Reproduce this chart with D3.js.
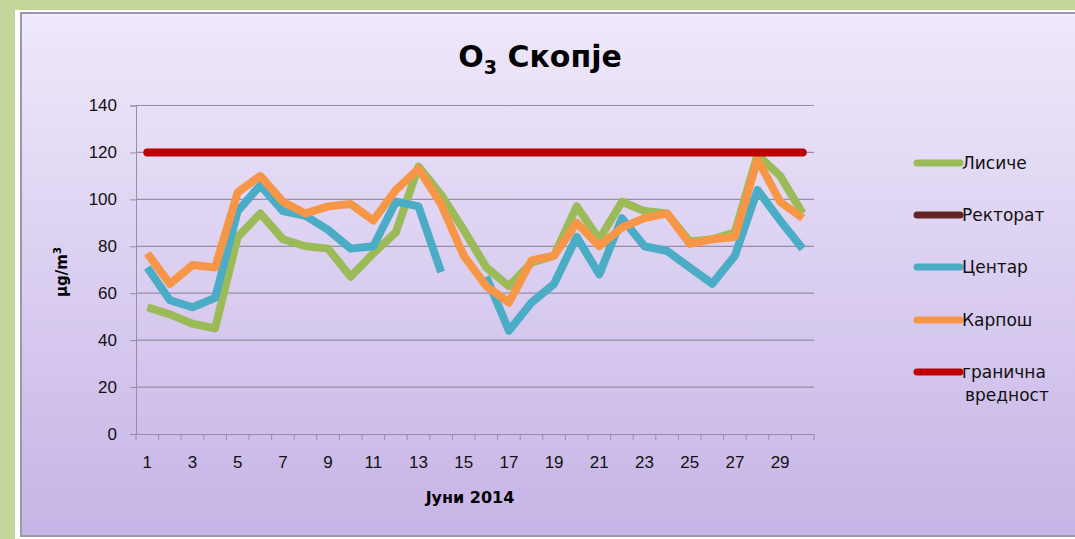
<!DOCTYPE html>
<html>
<head>
<meta charset="utf-8">
<script src="https://cdn.jsdelivr.net/npm/d3@7"></script>
<style>
  body { margin: 0; background: #c4d79b; }
  svg { display: block; font-family: "Comic Sans MS", "DejaVu Sans", sans-serif; }
</style>
</head>
<body>
<svg width="1075" height="539"></svg>
<script>
// денови во јуни
var days = d3.range(1, 31);

var lisice = [54, 51, 47, 45, 84, 94, 83, 80, 79, 67, 77, 86, 114, 102, 87, 71, 63, 73, 76, 97, 83, 99, 95, 94, 82, 83, 86, 119, 110, 94];
var rektorat = days.map(function() { return null; });
var centar = [71, 57, 54, 58, 95, 106, 95, 93, 87, 79, 80, 99, 97, 69, null, 67, 44, 56, 64, 84, 68, 92, 80, 78, 71, 64, 76, 104, 91, 79];
var karpos = [77, 64, 72, 71, 103, 110, 99, 94, 97, 98, 91, 104, 113, 98, 76, 63, 56, 74, 76, 90, 80, 88, 92, 94, 81, 83, 84, 117, 99, 92];
var granicna = days.map(function() { return 120; });

var seriesNames = ["Лисиче", "Ректорат", "Центар", "Карпош", "гранична вредност"];
var seriesColors = ["#9bbb59", "#632523", "#4bacc6", "#f79646", "#c00000"];
var yTicks = [0, 20, 40, 60, 80, 100, 120, 140];

var series = [lisice, rektorat, centar, karpos, granicna];

var svg = d3.select("svg");

// позадина
var defs = svg.append("defs");
var grad = defs.append("linearGradient").attr("id", "bg").attr("x1", 0).attr("y1", 0).attr("x2", 0).attr("y2", 1);
grad.append("stop").attr("offset", "0%").attr("stop-color", "#efe9fb");
grad.append("stop").attr("offset", "100%").attr("stop-color", "#c6b4e6");

svg.append("rect").attr("x", 15).attr("y", 10).attr("width", 1060).attr("height", 529).attr("fill", "#ffffff");
svg.append("rect").attr("x", 21).attr("y", 13).attr("width", 1060).attr("height", 523)
    .attr("fill", "url(#bg)").attr("stroke", "#9d98a8").attr("stroke-width", 2);

var margin = {left: 136, top: 105.5, right: 814, bottom: 434};

var x = d3.scaleBand().domain(days).range([margin.left, margin.right]);
var y = d3.scaleLinear().domain([0, 140]).range([margin.bottom, margin.top]);

// мрежа
svg.append("g").selectAll("line").data(yTicks.filter(function(d) { return d > 0; }))
  .enter().append("line")
    .attr("x1", margin.left).attr("x2", margin.right)
    .attr("y1", function(d) { return y(d); }).attr("y2", function(d) { return y(d); })
    .attr("stroke", "#968fa3").attr("stroke-width", 1.2);

// оски
var yAxis = svg.append("g").attr("transform", "translate(" + margin.left + ",0)")
    .call(d3.axisLeft(y).tickValues(yTicks).tickSize(6).tickPadding(13));
yAxis.select(".domain").attr("stroke", "#968fa3");
yAxis.selectAll(".tick line").attr("stroke", "#968fa3");
yAxis.selectAll("text").attr("font-size", 17).attr("fill", "#111");

var xAxis = svg.append("g").attr("transform", "translate(0," + margin.bottom + ")")
    .call(d3.axisBottom(x).tickSize(0).tickPadding(22).tickFormat(function(d) { return d % 2 === 1 ? d : ""; }));
xAxis.select(".domain").attr("stroke", "#968fa3");
xAxis.selectAll("text").attr("font-size", 17).attr("fill", "#111");

// поделби меѓу категориите
svg.append("g").selectAll("line").data(d3.range(0, 31))
  .enter().append("line")
    .attr("x1", function(i) { return margin.left + i * x.step(); })
    .attr("x2", function(i) { return margin.left + i * x.step(); })
    .attr("y1", margin.bottom).attr("y2", margin.bottom + 6)
    .attr("stroke", "#968fa3");

// линии
var line = d3.line()
    .defined(function(d) { return d != null; })
    .x(function(d, i) { return x(days[i]) + x.bandwidth() / 2; })
    .y(function(d) { return y(d); });

series.forEach(function(s, k) {
  svg.append("path")
      .datum(s)
      .attr("d", line)
      .attr("fill", "none")
      .attr("stroke", seriesColors[k])
      .attr("stroke-width", 8)
      .attr("stroke-linejoin", "round")
      .attr("stroke-linecap", k === 4 ? "round" : "butt");
});

// наслов
var title = svg.append("text").attr("x", 540).attr("y", 67).attr("text-anchor", "middle")
    .attr("font-size", 30).attr("font-weight", "bold").attr("fill", "#000");
title.append("tspan").text("O");
title.append("tspan").attr("font-size", 19).attr("dy", 7).text("3");
title.append("tspan").attr("dy", -7).text(" Скопје");

// наслови на оските
svg.append("text").attr("x", 470).attr("y", 503).attr("text-anchor", "middle")
    .attr("font-size", 16).attr("font-weight", "bold").text("Јуни 2014");

var yl = svg.append("text").attr("transform", "translate(67,272) rotate(-90)").attr("text-anchor", "middle")
    .attr("font-size", 15).attr("font-weight", "bold");
yl.append("tspan").text("μg/m");
yl.append("tspan").attr("font-size", 10).attr("dy", -6).text("3");

// легенда
var legendY = [163, 215, 267, 320, 372];
var legend = svg.append("g");
seriesNames.forEach(function(name, k) {
  legend.append("line")
      .attr("x1", 917).attr("x2", 960)
      .attr("y1", legendY[k]).attr("y2", legendY[k])
      .attr("stroke", seriesColors[k]).attr("stroke-width", 7).attr("stroke-linecap", "round");
  var t = legend.append("text").attr("x", 962).attr("y", legendY[k] + 6).attr("font-size", 17).attr("fill", "#111");
  var parts = name.split(" ");
  t.append("tspan").text(parts[0]);
  if (parts[1]) t.append("tspan").attr("x", 965).attr("dy", 23).text(parts[1]);
});
</script>
</body>
</html>
